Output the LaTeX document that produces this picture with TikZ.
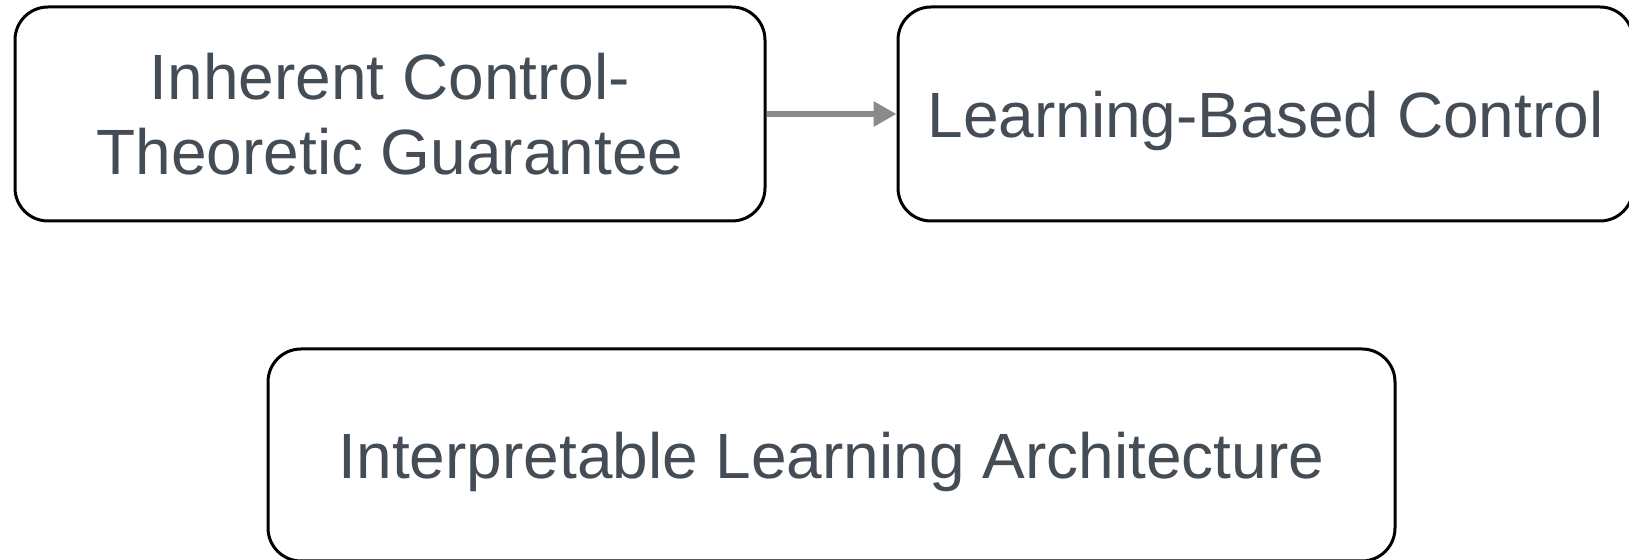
\documentclass[tikz,border=0pt]{standalone}
\usepackage{fontspec}
\setmainfont{Liberation Sans}
\usetikzlibrary{arrows.meta}
\definecolor{boxtext}{HTML}{444C56}
\definecolor{arrowgray}{HTML}{8A8A8A}

\begin{document}
\begin{tikzpicture}[x=0.5pt,y=-0.5pt,
  box/.style={draw,line width=1.5pt,rounded corners=16.5pt,text=boxtext,
    font=\fontsize{32}{37.5}\selectfont,align=center,inner sep=0pt,text depth=0pt},
  link/.style={draw=arrowgray,line width=3pt,-{Triangle[length=11.5pt,width=12pt]}}]
  \useasboundingbox (0,0) rectangle (1629,560);
  \node [box,minimum width=375pt,minimum height=107pt] (guarantee) at (390,114)
    {Inherent Control-\\Theoretic Guarantee};
  \node [box,minimum width=367.5pt,minimum height=107pt] (control) at (1265.5,114)
    {Learning-Based Control};
  \node [box,minimum width=563.5pt,minimum height=106pt] (arch) at (831.5,455)
    {Interpretable Learning Architecture};
  \draw [link] (guarantee) -- (control);
\end{tikzpicture}
\end{document}
